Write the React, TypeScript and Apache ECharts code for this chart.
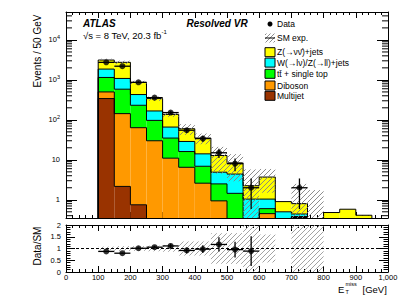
import React, { useEffect, useRef } from "react";
import * as echarts from "echarts";

// ---------------- data ----------------
const binLow = [100, 150, 200, 250, 300, 350, 400, 450, 500, 550, 600, 650, 700, 750, 800, 850, 900, 950];
const binWidth = 50;
const multijet = [341, 2.16, 0.75, 0, 0, 0, 0, 0, 0, 0, 0, 0, 0.36, 0, 0, 0, 0, 0];
const diboson = [159, 141, 62.9, 30, 11, 6.5, 2.6, 0.94, 0.1, 0, 0.45, 0, 0.01, 0, 0, 0, 0, 0];
const ttbarSingleTop = [650, 442, 168, 67, 24, 9.6, 4.3, 1.56, 1.35, 0.2, 0.15, 0, 0.01, 0, 0, 0, 0, 0];
const wzJets = [714, 502, 198, 70, 31, 12.7, 7.2, 2.4, 2.95, 0.84, 0.44, 0.5, 0.06, 0, 0, 0, 0, 0];
const znnJets = [1276, 1663, 432, 174, 71, 31.2, 20.9, 7.9, 4.0, 1.21, 2.66, 0.4, 0.36, 0.2, 0.48, 0.58, 0.41, 0];
const dataCounts = [2750, 2200, 870, 360, 152, 55, 34, 15, 8, 2, 0, 0, 2, 0, 0, 0, 0, 0];
const smUncertainty = [250, 275, 86, 41, 19, 18, 10.5, 8.3, 5.5, 3.5, 2.2, 0.01, 1.7, 1.55, 0.005, 0.005, 0.005, 0];

const layerNames = ["Multijet", "Diboson", "t\u0074\u0304 + single top", "W(\u2192l\u03bd)/Z(\u2192ll)+jets", "Z(\u2192\u03bd\u03bd\u0304)+jets"];
const legendOrder = [4, 3, 2, 1, 0];
const yTickExponents = [0, 1, 2, 3, 4];

// ---------------- styling ----------------
const FONT = '"Liberation Sans", Arial, Helvetica, sans-serif';
const layerColors = ["#993300", "#ff9900", "#00ff00", "#00ffff", "#ffff00"];
const YMIN = 0.35;
const YMAX = 5e4;
const XMIN = 0;
const XMAX = 1000;
const HATCH_COLOR = "#808080";

function clampY(v: number) {
  return Math.min(Math.max(v, YMIN), YMAX);
}

function hatchLines(x0: number, y0: number, x1: number, y1: number, spacing: number, stroke: string, lw: number) {
  const els: any[] = [];
  const cStart = Math.ceil((x0 + y0) / spacing) * spacing;
  for (let c = cStart; c <= x1 + y1; c += spacing) {
    const xa = Math.max(x0, c - y1);
    const xb = Math.min(x1, c - y0);
    if (xb <= xa) continue;
    els.push({
      type: "line",
      silent: true,
      shape: { x1: xa, y1: c - xa, x2: xb, y2: c - xb },
      style: { stroke, lineWidth: lw },
    });
  }
  return els;
}

export default function App() {
  const ref = useRef<HTMLDivElement>(null);

  useEffect(() => {
    if (!ref.current) return;
    const chart = echarts.init(ref.current, null, { renderer: "svg" });

    const layers = [multijet, diboson, ttbarSingleTop, wzJets, znnJets];
    const cum: number[][] = [];
    layers.forEach((arr, k) => {
      cum.push(arr.map((v, i) => v + (k ? cum[k - 1][i] : 0)));
    });
    const sm = cum[4];
    const n = binLow.length;
    const pos = (v: number) => Math.max(v, 1e-4);

    const axisLineStyle = { color: "#000", width: 1 };

    const fillSeries = layers.map((_, k) => ({
      type: "custom",
      name: layerNames[k],
      xAxisIndex: 0,
      yAxisIndex: 0,
      z: 1,
      silent: true,
      encode: { x: [0, 1], y: [2, 3] },
      data: binLow.map((x, i) => [x, x + binWidth, pos(k ? cum[k - 1][i] : 0), pos(cum[k][i])]),
      renderItem: (params: any, api: any) => {
        const x0 = api.value(0);
        const x1 = api.value(1);
        const lo = api.value(2);
        const hi = api.value(3);
        if (!(hi > YMIN) || hi <= lo) return null;
        const p0 = api.coord([x0, clampY(hi)]);
        const p1 = api.coord([x1, clampY(lo)]);
        return {
          type: "rect",
          silent: true,
          shape: { x: p0[0], y: p0[1], width: p1[0] - p0[0], height: p1[1] - p0[1] },
          style: { fill: layerColors[k], stroke: null },
        };
      },
    }));

    const outlineData: number[][] = [];
    layers.forEach((_, k) => {
      binLow.forEach((x, i) => {
        outlineData.push([x, x + binWidth, pos(cum[k][i]), pos(i ? cum[k][i - 1] : 0), i === n - 1 ? 1 : 0]);
      });
    });

    const outlineSeries = {
      type: "custom",
      name: "outline",
      xAxisIndex: 0,
      yAxisIndex: 0,
      z: 2,
      silent: true,
      encode: { x: [0, 1], y: [2, 3] },
      data: outlineData,
      renderItem: (params: any, api: any) => {
        const x0 = api.value(0);
        const x1 = api.value(1);
        const h = api.value(2);
        const p = api.value(3);
        const last = api.value(4);
        const top = api.coord([x0, clampY(h)]);
        const right = api.coord([x1, clampY(h)]);
        const prev = api.coord([x0, clampY(p)]);
        const bottom = api.coord([x1, YMIN]);
        const st = { stroke: "#000", lineWidth: 1 };
        const children: any[] = [];
        if (h > YMIN) {
          children.push({ type: "line", shape: { x1: top[0], y1: top[1], x2: right[0], y2: right[1] }, style: st });
        }
        if (Math.abs(prev[1] - top[1]) > 0.1) {
          children.push({ type: "line", shape: { x1: top[0], y1: prev[1], x2: top[0], y2: top[1] }, style: st });
        }
        if (last && h > YMIN) {
          children.push({ type: "line", shape: { x1: right[0], y1: right[1], x2: right[0], y2: bottom[1] }, style: st });
        }
        return { type: "group", children };
      },
    };

    const hatchMainData = binLow
      .map((x, i) => [x, x + binWidth, pos(sm[i] - smUncertainty[i]), pos(sm[i] + smUncertainty[i]), smUncertainty[i]])
      .filter((d) => d[4] > 0);

    const hatchMainSeries = {
      type: "custom",
      name: "SM exp.",
      xAxisIndex: 0,
      yAxisIndex: 0,
      z: 3,
      silent: true,
      encode: { x: [0, 1], y: [2, 3] },
      data: hatchMainData,
      renderItem: (params: any, api: any) => {
        const x0 = api.value(0);
        const x1 = api.value(1);
        const lo = api.value(2);
        const hi = api.value(3);
        if (!(hi > YMIN)) return null;
        const p0 = api.coord([x0, clampY(hi)]);
        const p1 = api.coord([x1, clampY(lo)]);
        if (p1[1] - p0[1] < 0.5) return null;
        return { type: "group", children: hatchLines(p0[0], p0[1], p1[0], p1[1], 5, HATCH_COLOR, 0.9) };
      },
    };

    const dataIdx = binLow.map((_, i) => i).filter((i) => dataCounts[i] > 0);

    const dataErrSeries = {
      type: "custom",
      name: "Data errors",
      xAxisIndex: 0,
      yAxisIndex: 0,
      z: 5,
      silent: true,
      encode: { x: [0, 2, 3], y: 1 },
      data: dataIdx.map((i) => [binLow[i] + binWidth / 2, dataCounts[i], binLow[i], binLow[i] + binWidth]),
      renderItem: (params: any, api: any) => {
        const xc = api.value(0);
        const nv = api.value(1);
        const x0 = api.value(2);
        const x1 = api.value(3);
        const e = Math.sqrt(nv);
        const up = api.coord([xc, clampY(nv + e)]);
        const dn = api.coord([xc, nv - e > 0 ? clampY(nv - e) : YMIN]);
        const l = api.coord([x0, clampY(nv)]);
        const r = api.coord([x1, clampY(nv)]);
        const st = { stroke: "#000", lineWidth: 1.3 };
        return {
          type: "group",
          children: [
            { type: "line", shape: { x1: up[0], y1: up[1], x2: dn[0], y2: dn[1] }, style: st },
            { type: "line", shape: { x1: l[0], y1: l[1], x2: r[0], y2: r[1] }, style: st },
          ],
        };
      },
    };

    const dataPointSeries = {
      type: "scatter",
      name: "Data",
      xAxisIndex: 0,
      yAxisIndex: 0,
      z: 6,
      silent: true,
      symbol: "circle",
      symbolSize: 6,
      itemStyle: { color: "#000" },
      data: dataIdx.map((i) => [binLow[i] + binWidth / 2, dataCounts[i]]),
    };

    // log minor ticks (2..9 x 10^k) drawn through the y scale
    const minorVals: number[] = [];
    for (let e = -1; e <= 4; e++) {
      for (let m = 2; m <= 9; m++) {
        const v = m * Math.pow(10, e);
        if (v > YMIN && v < YMAX) minorVals.push(v);
      }
    }
    const minorTickSeries = {
      type: "custom",
      name: "minor ticks",
      xAxisIndex: 0,
      yAxisIndex: 0,
      z: 7,
      silent: true,
      encode: { x: 0, y: 1 },
      data: minorVals.map((v) => [XMIN, v]),
      renderItem: (params: any, api: any) => {
        const v = api.value(1);
        const l = api.coord([XMIN, v]);
        const r = api.coord([XMAX, v]);
        const st = { stroke: "#000", lineWidth: 1 };
        return {
          type: "group",
          children: [
            { type: "line", shape: { x1: l[0], y1: l[1], x2: l[0] + 6, y2: l[1] }, style: st },
            { type: "line", shape: { x1: r[0] - 6, y1: r[1], x2: r[0], y2: r[1] }, style: st },
          ],
        };
      },
    };

    // ---------- ratio panel ----------
    const bandData = binLow
      .map((x, i) => {
        const rel = sm[i] > 0 ? smUncertainty[i] / sm[i] : 0;
        return [x, x + binWidth, Math.max(0, 1 - rel), Math.min(2, 1 + rel), rel];
      })
      .filter((d) => d[4] > 0);

    const ratioBandSeries = {
      type: "custom",
      name: "ratio band",
      xAxisIndex: 2,
      yAxisIndex: 2,
      z: 2,
      silent: true,
      encode: { x: [0, 1], y: [2, 3] },
      data: bandData,
      renderItem: (params: any, api: any) => {
        const p0 = api.coord([api.value(0), api.value(3)]);
        const p1 = api.coord([api.value(1), api.value(2)]);
        if (p1[1] - p0[1] < 1) return null;
        return { type: "group", children: hatchLines(p0[0], p0[1], p1[0], p1[1], 5, "#999999", 0.9) };
      },
    };

    const ratioIdx = dataIdx.filter((i) => sm[i] > 0 && dataCounts[i] / sm[i] <= 2);
    const ratioErrSeries = {
      type: "custom",
      name: "ratio errors",
      xAxisIndex: 2,
      yAxisIndex: 2,
      z: 5,
      silent: true,
      encode: { x: [0, 2, 3], y: 1 },
      data: ratioIdx.map((i) => [binLow[i] + binWidth / 2, dataCounts[i] / sm[i], binLow[i], binLow[i] + binWidth, Math.sqrt(dataCounts[i]) / sm[i]]),
      renderItem: (params: any, api: any) => {
        const xc = api.value(0);
        const r = api.value(1);
        const e = api.value(4);
        const up = api.coord([xc, Math.min(2, r + e)]);
        const dn = api.coord([xc, Math.max(0, r - e)]);
        const l = api.coord([api.value(2), r]);
        const rr = api.coord([api.value(3), r]);
        const st = { stroke: "#000", lineWidth: 1.3 };
        return {
          type: "group",
          children: [
            { type: "line", shape: { x1: up[0], y1: up[1], x2: dn[0], y2: dn[1] }, style: st },
            { type: "line", shape: { x1: l[0], y1: l[1], x2: rr[0], y2: rr[1] }, style: st },
          ],
        };
      },
    };
    const ratioPointSeries = {
      type: "scatter",
      name: "Data/SM",
      xAxisIndex: 2,
      yAxisIndex: 2,
      z: 6,
      silent: true,
      symbol: "circle",
      symbolSize: 6,
      itemStyle: { color: "#000" },
      data: ratioIdx.map((i) => [binLow[i] + binWidth / 2, dataCounts[i] / sm[i]]),
    };
    const unityLine = {
      type: "line",
      name: "unity",
      xAxisIndex: 2,
      yAxisIndex: 2,
      z: 3,
      silent: true,
      symbol: "none",
      lineStyle: { color: "#000", width: 1, type: [3, 2] },
      data: [
        [XMIN, 1],
        [XMAX, 1],
      ],
    };

    const xAxisBase = (gridIndex: number, position: string, showLabel: boolean) => ({
      type: "value",
      gridIndex,
      position,
      min: XMIN,
      max: XMAX,
      interval: 100,
      axisLine: { show: true, onZero: false, lineStyle: axisLineStyle },
      axisTick: { show: true, inside: true, length: 6, lineStyle: { color: "#000" } },
      minorTick: { show: true, splitNumber: 5, length: 3, lineStyle: { color: "#000" } },
      splitLine: { show: false },
      axisLabel: { show: showLabel, color: "#000", fontSize: 7.5, lineHeight: 7.5, fontFamily: FONT, margin: 2 },
    });

    const mainY = (position: string, showLabel: boolean) => ({
      type: "log",
      logBase: 10,
      gridIndex: 0,
      position,
      min: YMIN,
      max: YMAX,
      axisLine: { show: true, onZero: false, lineStyle: axisLineStyle },
      axisTick: { show: true, inside: true, length: 11, lineStyle: { color: "#000" } },
      minorTick: { show: false },
      splitLine: { show: false },
      axisLabel: {
        show: showLabel,
        showMinLabel: false,
        showMaxLabel: false,
        margin: 6,
        color: "#000",
        fontSize: 7.5,
        fontFamily: FONT,
        formatter: (v: number) => {
          const lg = Math.log10(v);
          const e = Math.round(lg);
          if (Math.abs(lg - e) > 0.01 || yTickExponents.indexOf(e) < 0) return "";
          if (e === 0) return "1";
          if (e === 1) return "10";
          return "10{sup|" + e + "}";
        },
        rich: {
          sup: { fontSize: 5.5, color: "#000", fontFamily: FONT, padding: [0, 0, 6, 0] },
        },
      },
    });

    const ratioY = (position: string, showLabel: boolean) => ({
      type: "value",
      gridIndex: 1,
      position,
      min: 0,
      max: 2,
      interval: 0.5,
      axisLine: { show: true, onZero: false, lineStyle: axisLineStyle },
      axisTick: { show: true, inside: true, length: 9, lineStyle: { color: "#000" } },
      minorTick: { show: true, splitNumber: 5, length: 4.5, lineStyle: { color: "#000" } },
      splitLine: { show: false },
      axisLabel: { show: showLabel, color: "#000", fontSize: 7.5, fontFamily: FONT, margin: 5 },
    });

    // ---------- legend & texts ----------
    const legendX = 265;
    const legendBoxYs = [52.2, 62.6, 73.8, 85.5, 95.8];
    const LEGEND_FONT = "8.5px " + FONT;
    const graphics: any[] = [
      { type: "text", x: 83, y: 23.3, style: { text: "ATLAS", font: "italic bold 10px " + FONT, fill: "#000", textVerticalAlign: "middle" } },
      { type: "text", x: 186.5, y: 23.3, style: { text: "Resolved VR", font: "italic bold 10px " + FONT, fill: "#000", textVerticalAlign: "middle" } },
      {
        type: "text",
        x: 83,
        y: 35,
        style: {
          text: "\u221As = 8 TeV, 20.3 fb{sup|-1}",
          font: "9.5px " + FONT,
          fill: "#000",
          textVerticalAlign: "middle",
          rich: { sup: { fontSize: 6, fill: "#000", fontFamily: FONT, padding: [0, 0, 6, 0] } },
        },
      },
      {
        type: "text",
        x: 37,
        y: 51,
        rotation: Math.PI / 2,
        style: { text: "Events / 50 GeV", font: "10px " + FONT, fill: "#000", textAlign: "center", textVerticalAlign: "middle" },
      },
      {
        type: "text",
        x: 37,
        y: 246,
        rotation: Math.PI / 2,
        style: { text: "Data/SM", font: "10px " + FONT, fill: "#000", textAlign: "center", textVerticalAlign: "middle" },
      },
      { type: "text", x: 338, y: 289, style: { text: "E", font: "9.5px " + FONT, fill: "#000", textVerticalAlign: "middle" } },
      { type: "text", x: 345.5, y: 284.2, style: { text: "miss", font: "5.5px " + FONT, fill: "#000", textVerticalAlign: "middle" } },
      { type: "text", x: 345.5, y: 291.5, style: { text: "T", font: "5.5px " + FONT, fill: "#000", textVerticalAlign: "middle" } },
      { type: "text", x: 362.5, y: 289, style: { text: "[GeV]", font: "9.5px " + FONT, fill: "#000", textVerticalAlign: "middle" } },
      // legend: data
      { type: "circle", shape: { cx: legendX + 5, cy: 24, r: 2.5 }, style: { fill: "#000" } },
      { type: "text", x: legendX + 12, y: 24, style: { text: "Data", font: LEGEND_FONT, fill: "#000", textVerticalAlign: "middle" } },
      // legend: SM exp.
      { type: "group", children: hatchLines(legendX, 33.5, legendX + 10, 42.5, 4, HATCH_COLOR, 0.9) },
      { type: "line", shape: { x1: legendX, y1: 38, x2: legendX + 10, y2: 38 }, style: { stroke: "#000", lineWidth: 1 } },
      { type: "text", x: legendX + 12, y: 38, style: { text: "SM exp.", font: LEGEND_FONT, fill: "#000", textVerticalAlign: "middle" } },
    ];
    legendOrder.forEach((k, j) => {
      const cy = legendBoxYs[j];
      graphics.push({
        type: "rect",
        shape: { x: legendX, y: cy - 4.5, width: 10, height: 9 },
        style: { fill: layerColors[k], stroke: "#000", lineWidth: 1 },
      });
      graphics.push({
        type: "text",
        x: legendX + 12,
        y: cy,
        style: { text: layerNames[k], font: LEGEND_FONT, fill: "#000", textVerticalAlign: "middle" },
      });
    });

    const option: any = {
      animation: false,
      backgroundColor: "#fff",
      textStyle: { fontFamily: FONT },
      grid: [
        { left: 66, top: 12, width: 322, height: 206, show: false },
        { left: 66, top: 225, width: 322, height: 47, show: false },
      ],
      xAxis: [xAxisBase(0, "bottom", false), xAxisBase(0, "top", false), xAxisBase(1, "bottom", true), xAxisBase(1, "top", false)],
      yAxis: [mainY("left", true), mainY("right", false), ratioY("left", true), ratioY("right", false)],
      series: [
        ...fillSeries,
        outlineSeries,
        hatchMainSeries,
        dataErrSeries,
        dataPointSeries,
        minorTickSeries,
        ratioBandSeries,
        unityLine,
        ratioErrSeries,
        ratioPointSeries,
      ],
      graphic: graphics,
    };

    chart.setOption(option);
    return () => chart.dispose();
  }, []);

  return <div ref={ref} style={{ position: "absolute", left: 0, top: 0, width: 411, height: 295 }} />;
}
